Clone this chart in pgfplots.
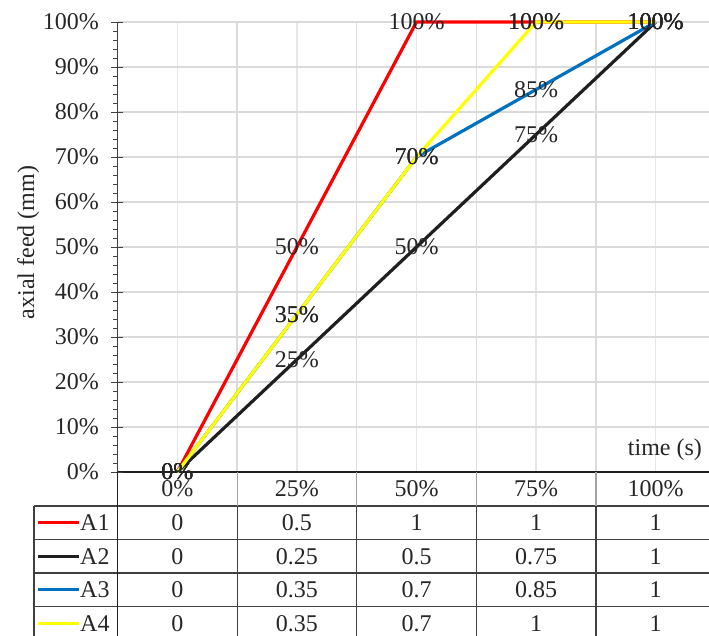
\documentclass[border=0pt]{standalone}
\usepackage{pgfplots}
\pgfplotsset{compat=1.18}
\usepackage{pgfplotstable}
\usepackage{fontspec}
\setmainfont{Liberation Serif}

\definecolor{serA}{HTML}{FF0000}
\definecolor{serB}{HTML}{1F1F1F}
\definecolor{serC}{HTML}{0070C0}
\definecolor{serD}{HTML}{FFFF00}
\definecolor{gridmaj}{HTML}{DADADA}
\definecolor{gridmin}{HTML}{E6E6E6}
\definecolor{axisc}{HTML}{404040}
\definecolor{txt}{HTML}{262626}

\pgfkeys{/pgf/number format/assume math mode=true}
\newcommand\chartfont{\fontsize{24}{28}\selectfont}

% axial feed (fraction of full stroke) at each time step
\pgfplotstableread{
t A1 A2 A3 A4
0 0 0 0 0
1 0.5 0.25 0.35 0.35
2 1 0.5 0.7 0.7
3 1 0.75 0.85 1
4 1 1 1 1
}\feedtable

\begin{document}
\begin{tikzpicture}[font=\chartfont, text=txt]
\useasboundingbox (0pt,0pt) rectangle (709pt,-635pt);
\begin{axis}[
  at={(117.5pt,-472pt)}, anchor=south west,
  scale only axis, width=591.5pt, height=450pt,
  xmin=-0.5, xmax=4.4457, ymin=0, ymax=100,
  clip=false,
  /pgf/number format/assume math mode=true,
  axis lines=left,
  x axis line style={-, draw=serB, line width=2.6pt},
  y axis line style={-, draw=axisc, line width=1.3pt},
  xtick={0,1,2,3,4},
  xticklabels={0\%,25\%,50\%,75\%,100\%},
  minor xtick={0.5,1.5,2.5,3.5},
  xtick style={draw=none},
  x tick label style={anchor=center, yshift=-11pt},
  ytick={0,10,20,30,40,50,60,70,80,90,100},
  yticklabel={\pgfmathprintnumber{\tick}\%},
  y tick label style={xshift=-9pt},
  minor y tick num=4,
  tick align=outside,
  major tick length=6pt, minor tick length=4pt,
  ytick style={draw=axisc, line width=1pt},
  extra y ticks={0,10,20,30,40,50,60,70,80,90,100},
  extra y tick labels={},
  extra y tick style={tick align=inside, major tick length=5pt, grid=none},
  xmajorgrids, xminorgrids, ymajorgrids,
  major x grid style={draw=gridmin, line width=1.4pt},
  minor x grid style={draw=gridmaj, line width=1.3pt},
  major y grid style={draw=gridmaj, line width=1.5pt},
  tick label style={font=\chartfont, text=txt},
  xlabel={time (s)},
  ylabel={axial feed (mm)},
  every axis x label/.style={at={(axis description cs:0.994,0.05)}, anchor=east, font=\chartfont},
  every axis y label/.style={at={(axis description cs:-0.151,0.51)}, rotate=90, anchor=center, font=\chartfont},
  nodes near coords={\pgfmathprintnumber[fixed,precision=0]{\pgfplotspointmeta}\%},
  point meta=y,
  nodes near coords style={anchor=center, inner sep=0pt, font=\chartfont, text=txt},
  every axis plot/.append style={line width=3.2pt, mark=none},
]
\addplot[serA] table[x=t, y expr=\thisrow{A1}*100] {\feedtable};
\addplot[serB] table[x=t, y expr=\thisrow{A2}*100] {\feedtable};
\addplot[serC] table[x=t, y expr=\thisrow{A3}*100] {\feedtable};
\addplot[serD] table[x=t, y expr=\thisrow{A4}*100] {\feedtable};
\end{axis}

% data table beneath the time axis
\begin{scope}[x=1pt, y=-1pt]
  \foreach \yy in {506,539.5,573,606.5,640}
    \draw[axisc, line width=1.2pt] (34,\yy) -- (709,\yy);
  \draw[axisc, line width=1.2pt] (34,506) -- (34,640);
  \draw[serB, line width=1.2pt] (117.5,472) -- (117.5,640);
  \foreach \i in {1,2,3,4} {
    \draw[gridmaj!75!black, line width=1.2pt] (117.5+119.6*\i,472) -- (117.5+119.6*\i,506);
    \draw[axisc, line width=1.2pt] (117.5+119.6*\i,506) -- (117.5+119.6*\i,640);
  }
  \foreach \s/\c [count=\r from 0] in {A1/serA, A2/serB, A3/serC, A4/serD} {
    \draw[\c, line width=3.2pt] (38,522.75+33.5*\r) -- (79,522.75+33.5*\r);
    \node[anchor=west, inner sep=0pt] at (80,522.75+33.5*\r) {\s};
    \foreach \i in {0,1,2,3,4} {
      \pgfplotstablegetelem{\i}{\s}\of\feedtable
      \node[inner sep=0pt] at (177.3+119.6*\i,522.75+33.5*\r) {\pgfplotsretval};
    }
  }
\end{scope}
\end{tikzpicture}
\end{document}
